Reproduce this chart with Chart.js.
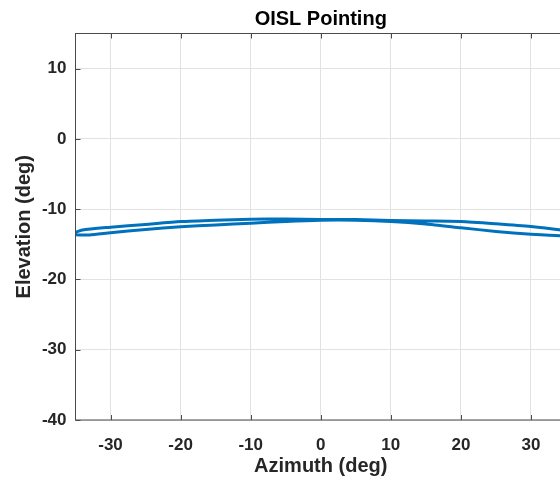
<!DOCTYPE html>
<html lang="en">
<head>
    <meta charset="UTF-8" />
    <title>OISL Pointing</title>
    <script src="https://cdn.jsdelivr.net/npm/chart.js"></script>
    <style>
        html, body { margin: 0; padding: 0; background: #fff; overflow: hidden; }
        /* plot runs past the right edge of the window, like the reference */
        .wrap { width: 600px; height: 481px; }
    </style>
</head>
<body>
    <div class="wrap"><canvas id="pointing"></canvas></div>

    <script>
        // loop traced left tip -> upper branch -> right tip -> lower branch -> left tip
        const azimuth = [-35.8, -34, -30, -25, -20, -15, -10, -5, 0, 5, 10, 15, 20, 25, 30, 34.3, 37.5,
                         34.3, 30, 25, 20, 15, 10, 5, 0, -5, -10, -15, -20, -25, -30, -33, -35.8];
        const elevation = [-13.6, -12.96, -12.57, -12.17, -11.77, -11.57, -11.43, -11.39, -11.46, -11.46, -11.6, -11.67, -11.74, -12.07, -12.46, -12.96, -13.45,
                           -13.77, -13.57, -13.17, -12.64, -12.1, -11.74, -11.57, -11.57, -11.74, -12.0, -12.24, -12.49, -12.89, -13.34, -13.67, -13.6];
        const xTicks = [-30, -20, -10, 0, 10, 20, 30];
        const yTicks = [-40, -30, -20, -10, 0, 10];

        const FONT = '"Liberation Sans", Arial, Helvetica, sans-serif';
        const points = azimuth.map((a, i) => ({ x: a, y: elevation[i] }));

        // MATLAB style box with inward tick marks
        const axesBox = {
            id: 'axesBox',
            afterDraw(chart) {
                const { ctx, chartArea: a, scales } = chart;
                ctx.save();
                ctx.strokeStyle = '#4a4a4a';
                ctx.lineWidth = 1;
                ctx.strokeRect(a.left, a.top, a.right - a.left, a.bottom - a.top);
                ctx.beginPath();
                xTicks.forEach(v => {
                    const px = Math.round(scales.x.getPixelForValue(v)) + 0.5;
                    ctx.moveTo(px, a.bottom); ctx.lineTo(px, a.bottom - 5);
                    ctx.moveTo(px, a.top); ctx.lineTo(px, a.top + 5);
                });
                yTicks.forEach(v => {
                    const py = Math.round(scales.y.getPixelForValue(v)) + 0.5;
                    ctx.moveTo(a.left, py); ctx.lineTo(a.left + 5, py);
                    ctx.moveTo(a.right, py); ctx.lineTo(a.right - 5, py);
                });
                ctx.stroke();
                ctx.restore();
            }
        };

        new Chart(document.getElementById('pointing'), {
            type: 'scatter',
            data: {
                datasets: [{
                    data: points,
                    showLine: true,
                    borderColor: '#0072BD',
                    borderWidth: 3,
                    pointRadius: 0,
                    tension: 0.2,
                    fill: false
                }]
            },
            options: {
                responsive: true,
                maintainAspectRatio: false,
                animation: false,
                layout: { padding: { left: 0, right: 34, top: 0, bottom: 0 } },
                plugins: {
                    legend: { display: false },
                    tooltip: { enabled: false },
                    title: {
                        display: true,
                        text: 'OISL Pointing',
                        fullSize: false,
                        color: '#000',
                        font: { family: FONT, size: 20, weight: 'bold' },
                        padding: { top: 7, bottom: 2.5 }
                    }
                },
                scales: {
                    x: {
                        type: 'linear',
                        min: -35,
                        max: 35,
                        afterBuildTicks: s => { s.ticks = xTicks.map(v => ({ value: v })); },
                        afterFit: s => { s.height = 61; },
                        grid: { color: '#e2e2e2', drawTicks: false },
                        border: { display: false },
                        ticks: {
                            padding: 15,
                            color: '#262626',
                            font: { family: FONT, size: 17, weight: 'bold' }
                        },
                        title: {
                            display: true,
                            text: 'Azimuth (deg)',
                            color: '#262626',
                            font: { family: FONT, size: 20, weight: 'bold' },
                            padding: { top: 0, bottom: 3 }
                        }
                    },
                    y: {
                        type: 'linear',
                        min: -40,
                        max: 15,
                        afterBuildTicks: s => { s.ticks = yTicks.map(v => ({ value: v })); },
                        afterFit: s => { s.width = 75.5; },
                        grid: { color: '#e2e2e2', drawTicks: false },
                        border: { display: false },
                        ticks: {
                            padding: 9,
                            color: '#262626',
                            font: { family: FONT, size: 17, weight: 'bold' }
                        },
                        title: {
                            display: true,
                            text: 'Elevation (deg)',
                            color: '#262626',
                            font: { family: FONT, size: 20, weight: 'bold' },
                            padding: { top: 12.5, bottom: 0 }
                        }
                    }
                }
            },
            plugins: [axesBox]
        });
    </script>
</body>
</html>
